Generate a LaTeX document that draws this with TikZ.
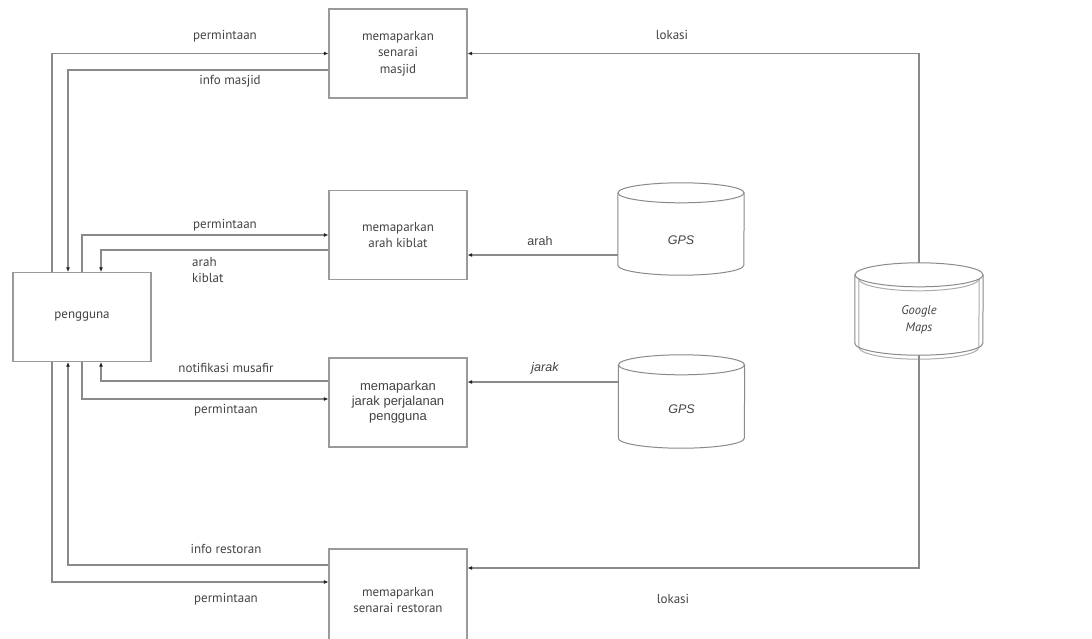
\documentclass[tikz,border=0pt]{standalone}
\usepackage{fontspec}
\setmainfont{PT Sans}
\newfontfamily\arialf{Liberation Sans}
\usetikzlibrary{arrows.meta}
\definecolor{linec}{HTML}{8A8A8A}
\definecolor{boxc}{HTML}{9A9A9A}
\definecolor{txtc}{HTML}{444444}
\definecolor{tipc}{HTML}{222222}
\newcommand\drawcyl[2]{%
  \draw[cylc] ([yshift=-#2]#1.north west) -- ([yshift=#2]#1.south west)
    arc[start angle=180, end angle=360, x radius=63pt, y radius=#2]
    -- ([yshift=-#2]#1.north east);
  \draw[cylc] ([yshift=-#2]#1.north) ellipse[x radius=63pt, y radius=#2];}
\tikzset{
  proc/.style={draw=boxc, line width=1.1pt, minimum width=138pt, minimum height=89pt,
    inner sep=0pt, align=center, text=txtc, font=\fontsize{13}{16.5}\selectfont},
  conn/.style={draw=linec, line width=1.1pt, -{Latex[length=4.5pt,width=4pt,color=tipc]}},
  lbl/.style={text=txtc, inner sep=0pt, font=\fontsize{13}{16.5}\selectfont},
  albl/.style={text=txtc, inner sep=0pt, font=\arialf\fontsize{12.5}{15}\selectfont},
  ialbl/.style={text=txtc, inner sep=0pt, font=\arialf\itshape\fontsize{12.5}{15}\selectfont},
  cylbox/.style={minimum width=126pt, inner sep=0pt},
  cylc/.style={draw=linec, line width=1pt},
}
\begin{document}
\begin{tikzpicture}[x=1pt,y=-1pt]
\useasboundingbox (0,0) rectangle (1092,638);
\clip (0,0) rectangle (1092,638);
\fill[white] (0,0) rectangle (1092,638);

% process boxes
\node[proc] (box1) at (398,53.5) {memaparkan\\senarai\\masjid};
\node[proc] (box2) at (398,235) {memaparkan\\arah kiblat};
\node[proc, font=\arialf\fontsize{13}{15}\selectfont] (box3) at (398,402.5) {memaparkan\\jarak perjalanan\\pengguna};
\node[proc, minimum height=102pt] (box4) at (398,600) {memaparkan\\senarai restoran};
\node[proc] (peng) at (82,317) {pengguna};

% data stores
\node[cylbox, minimum height=92pt] (gps1) at (681,229) {};
\drawcyl{gps1}{10pt}
\node[ialbl] (gps1t) at ([yshift=-11pt]gps1.center) {GPS};
\node[cylbox, minimum height=93pt] (gps2) at (681.5,401.5) {};
\drawcyl{gps2}{10pt}
\node[ialbl] (gps2t) at ([yshift=-7.5pt]gps2.center) {GPS};
\node[cylbox, minimum width=128pt, minimum height=92pt] (gm) at (919,309) {};
\draw[cylc] ([yshift=-12pt]gm.north west) -- ([yshift=12pt]gm.south west)
    arc[start angle=180, end angle=360, x radius=64pt, y radius=12pt]
    -- ([yshift=-12pt]gm.north east);
\draw[cylc] ([yshift=-12pt]gm.north) ellipse[x radius=64pt, y radius=12pt];
\draw[cylc, draw opacity=0.7] ([xshift=4pt,yshift=-16pt]gm.north west) -- ([xshift=4pt,yshift=8pt]gm.south west)
    arc[start angle=180, end angle=360, x radius=60pt, y radius=12pt]
    -- ([xshift=-4pt,yshift=-16pt]gm.north east);
\draw[cylc, draw opacity=0.7] ([xshift=4pt,yshift=-16pt]gm.north west)
    arc[start angle=180, end angle=360, x radius=60pt, y radius=12pt];
\node[lbl, align=center, font=\itshape\fontsize{12.5}{17}\selectfont] (gmt) at ([yshift=-11pt]gm.center) {Google\\Maps};

% connectors to/from pengguna
\draw[conn] ([xshift=-30pt]peng.north) |- (box1.west);
\draw[conn] ([yshift=-16.5pt]box1.west) -| ([xshift=-14pt]peng.north);
\draw[conn] (peng.north) |- (box2.west);
\draw[conn] ([yshift=-15pt]box2.west) -| ([xshift=19pt]peng.north);
\draw[conn] ([yshift=21.5pt]box3.west) -| ([xshift=19pt]peng.south);
\draw[conn] (peng.south) |- ([yshift=3.5pt]box3.west);
\draw[conn] ([yshift=35pt]box4.west) -| ([xshift=-14pt]peng.south);
\draw[conn] ([xshift=-30pt]peng.south) |- ([yshift=18pt]box4.west);

% connectors from data stores
\draw[conn] ([yshift=-20pt]box2.east -| gps1.west) -- ([yshift=-20pt]box2.east);
\draw[conn] ([yshift=20.5pt]box3.east -| gps2.west) -- ([yshift=20.5pt]box3.east);
\draw[conn] (gm.north) |- (box1.east);
\draw[conn] (gm.south) |- ([yshift=32pt]box4.east);

% labels
\node[lbl] (l1) at (225,36) {permintaan};
\node[lbl] (l2) at (230,81) {info masjid};
\node[lbl] (l3) at (672,35) {lokasi};
\node[lbl] (l4) at (225,225) {permintaan};
\node[lbl, align=left, anchor=west] (l5) at (192,270) {arah\\kiblat};
\node[albl] (l6) at (540,241) {arah};
\node[lbl] (l7) at (226,368) {notifikasi musafir};
\node[lbl] (l8) at (226,410) {permintaan};
\node[ialbl] (l9) at (545,368) {jarak};
\node[lbl] (l10) at (226,549) {info restoran};
\node[lbl] (l11) at (226,599) {permintaan};
\node[lbl] (l12) at (673,599) {lokasi};
\end{tikzpicture}
\end{document}
